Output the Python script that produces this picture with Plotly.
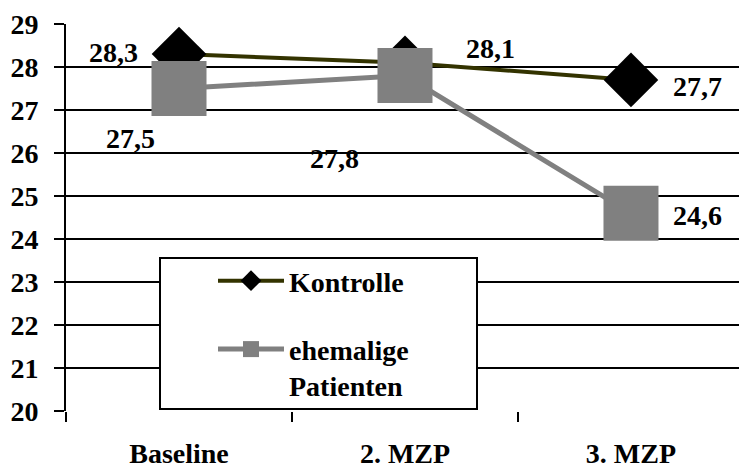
import plotly.graph_objects as go

categories = ["Baseline", "2. MZP", "3. MZP"]
kontrolle = [28.3, 28.1, 27.7]
patienten = [27.5, 27.8, 24.6]
kontrolle_labels = ["28,3", "28,1", "27,7"]
patienten_labels = ["27,5", "27,8", "24,6"]
y_ticks = list(range(20, 30))

FONT = "Liberation Serif"
W, H = 739, 468
ML, MR, MT, MB = 66, 0, 24, 57
PW, PH = W - ML - MR, H - MT - MB

fig = go.Figure()
fig.add_trace(go.Scatter(
    x=categories, y=kontrolle, name="<b>Kontrolle</b>", mode="lines+markers",
    line=dict(color="#333300", width=4),
    marker=dict(symbol="diamond", size=42, color="black", line=dict(width=0)),
    legendgroup="a", cliponaxis=False,
))
fig.add_trace(go.Scatter(
    x=categories, y=patienten, name="<b>ehemalige<br>Patienten</b>", mode="lines+markers",
    line=dict(color="#808080", width=5),
    marker=dict(symbol="square", size=55, color="#808080", line=dict(width=0)),
    legendgroup="b", cliponaxis=False,
))

k_shift = [(-66, 2), (86, 14), (67, -7)]
p_shift = [(-49, -50), (-70, -83), (67, -2)]
for i, c in enumerate(categories):
    for vals, labs, sh in ((kontrolle, kontrolle_labels, k_shift), (patienten, patienten_labels, p_shift)):
        fig.add_annotation(x=c, y=vals[i], text="<b>" + labs[i] + "</b>", showarrow=False,
                           xshift=sh[i][0], yshift=sh[i][1],
                           font=dict(family=FONT, size=28, color="black"))

def px_x(p):
    return (p - ML) / PW

def px_y(p):
    return (H - MB - p) / PH

fig.add_shape(type="rect", xref="paper", yref="paper",
              x0=px_x(160), x1=px_x(477), y0=px_y(409), y1=px_y(258),
              line=dict(color="black", width=2), fillcolor="white", layer="above")

fig.update_layout(
    width=W, height=H,
    margin=dict(l=ML, r=MR, t=MT, b=MB),
    paper_bgcolor="white", plot_bgcolor="white",
    font=dict(family=FONT, size=28, color="black"),
    showlegend=True,
    legend=dict(x=px_x(213), y=px_y(256), xanchor="left", yanchor="top",
                bgcolor="rgba(0,0,0,0)", borderwidth=0, valign="top",
                itemwidth=66, tracegroupgap=29, traceorder="grouped",
                font=dict(family=FONT, size=28, color="black")),
    xaxis=dict(range=[-0.5, 2.478], showgrid=False, showline=False,
               ticks="outside", tickson="boundaries", ticklen=10, tickwidth=2,
               tickcolor="black", ticklabelstandoff=23,
               tickvals=categories, ticktext=["<b>" + c + "</b>" for c in categories],
               tickfont=dict(family=FONT, size=28, color="black")),
    yaxis=dict(range=[20, 29], tickvals=y_ticks, ticktext=["<b>%d</b>" % v for v in y_ticks],
               showgrid=True, gridcolor="black",
               gridwidth=2, showline=True, linecolor="black", linewidth=2,
               ticks="outside", ticklen=10, tickwidth=2, tickcolor="black",
               ticklabelstandoff=10, zeroline=False,
               tickfont=dict(family=FONT, size=28, color="black")),
)
fig.write_html("out.html")
